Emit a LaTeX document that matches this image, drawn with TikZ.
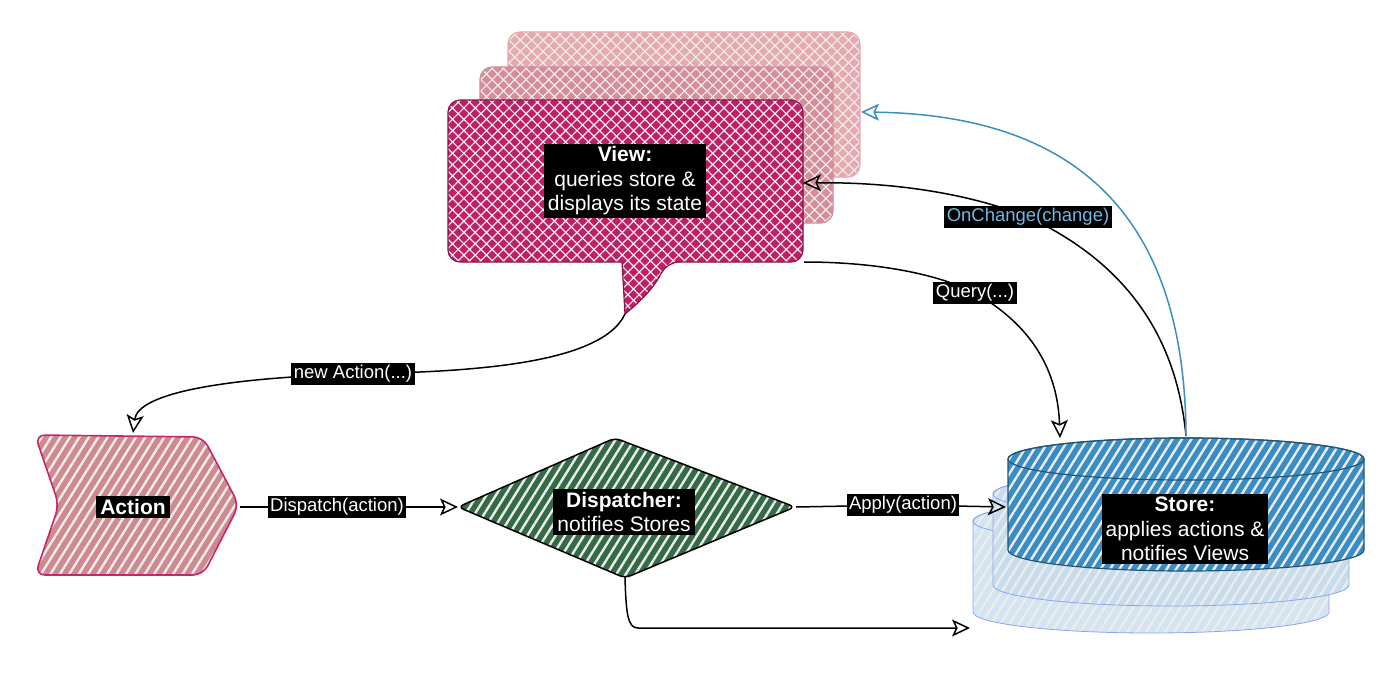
\documentclass[tikz,border=0pt]{standalone}
\usepackage{fontspec}
\setmainfont{Liberation Sans}
\usetikzlibrary{arrows.meta,patterns.meta}
\definecolor{viewfront}{HTML}{C01F66}
\definecolor{viewmid}{HTML}{D58D99}
\definecolor{viewback}{HTML}{E5AAB0}
\definecolor{actionfill}{HTML}{CE8A8F}
\definecolor{actionborder}{HTML}{C8266B}
\definecolor{dispfill}{HTML}{356A47}
\definecolor{storefill}{HTML}{3A8DC4}
\definecolor{storeghost}{HTML}{AFCFE6}
\definecolor{blueline}{HTML}{3A8FC0}
\definecolor{bluetext}{HTML}{72B8E2}
\newcommand\edgefont{\fontsize{18.5}{22}\selectfont}
\newcommand\nodefont{\fontsize{21}{24.5}\selectfont}
\tikzset{
  lbl/.style={fill=black, text=white, inner sep=2.5pt, font=\edgefont},
  nlbl/.style={fill=black, text=white, inner xsep=4pt, inner ysep=3pt, align=center, font=\nodefont},
  conn/.style={draw=black, line width=1.5pt, -{Stealth[open,length=18pt,width=17pt,inset=4pt,line width=1.5pt]}},
  blueconn/.style={conn, draw=blueline},
  crossfill/.style={pattern={Hatch[angle=45,distance=8pt,line width=1.2pt]}, pattern color=white!85!gray},
  stripefill/.style={pattern={Lines[angle=58,distance=8pt,line width=2.4pt]}, pattern color=white!85!gray},
}
\begin{document}
\begin{tikzpicture}[x=1pt,y=1pt]
\useasboundingbox (0,0) rectangle (1400,-685);

% ---------- View (stack of callouts) ----------
\draw[draw=viewback, line width=1.2pt, rounded corners=12pt, preaction={fill=viewback}, crossfill]
  (508,-32) rectangle (860,-177);
\draw[draw=viewmid, line width=1.2pt, rounded corners=12pt, preaction={fill=viewmid}, crossfill]
  (480,-67) rectangle (833,-223);
\draw[draw=viewfront!70!black, line width=1.2pt, preaction={fill=viewfront}, crossfill]
  [rounded corners=12pt] (622,-262) -- (448,-262) -- (448,-100) -- (803,-100) -- (803,-262) -- (667,-262)
  [sharp corners] to[bend left=12] (625,-314) -- cycle;

% ---------- Action ----------
\draw[draw=actionborder, line width=1.6pt, rounded corners=10pt, preaction={fill=actionfill}, stripefill]
  (35,-435) -- (203,-437) -- (239,-505) -- (203,-575) -- (35,-575) -- (59,-505) -- cycle;

% ---------- Dispatcher ----------
\draw[draw=black, line width=1.5pt, rounded corners=6pt, preaction={fill=dispfill}, stripefill]
  (458,-507) -- (615,-438) -- (795,-507) -- (625,-578) -- cycle;

% ---------- Store (stack of cylinders) ----------
\draw[draw=storeghost!80!blue, line width=0.8pt, preaction={fill=storeghost!55!white}, stripefill]
  (973,-521) -- (973,-612) arc[start angle=180,end angle=360,x radius=178,y radius=21]
  -- (1329,-521) arc[start angle=0,end angle=180,x radius=178,y radius=21] -- cycle;
\draw[draw=storeghost!80!blue, line width=0.8pt] (1151,-521) ellipse[x radius=178,y radius=21];
\draw[draw=storeghost!80!blue, line width=0.8pt, preaction={fill=storeghost!70!white}, stripefill]
  (993,-494) -- (993,-585) arc[start angle=180,end angle=360,x radius=178,y radius=21]
  -- (1349,-494) arc[start angle=0,end angle=180,x radius=178,y radius=21] -- cycle;
\draw[draw=storeghost!80!blue, line width=0.8pt] (1171,-494) ellipse[x radius=178,y radius=21];
\draw[draw=storefill!60!black, line width=1.2pt, preaction={fill=storefill}, stripefill]
  (1008,-459) -- (1008,-550) arc[start angle=180,end angle=360,x radius=178,y radius=21]
  -- (1364,-459) arc[start angle=0,end angle=180,x radius=178,y radius=21] -- cycle;
\draw[draw=storefill!60!black, line width=1.2pt] (1186,-459) ellipse[x radius=178,y radius=21];

% ---------- anchor coordinates ----------
\coordinate (viewtip) at (625,-314);
\coordinate (viewright) at (803,-183);
\coordinate (viewbackright) at (861,-112);
\coordinate (viewcorner) at (804,-262);
\coordinate (actiontop) at (133,-433);
\coordinate (actionright) at (240,-507);
\coordinate (displeft) at (458,-507);
\coordinate (dispright) at (796,-507);
\coordinate (dispbottom) at (625,-577);
\coordinate (storeleft) at (1006,-507);
\coordinate (storetop) at (1186,-436);
\coordinate (storetopleft) at (1060,-438);
\coordinate (ghostleft) at (970,-628);
\coordinate (bend) at (638,-628);

% ---------- label positions ----------
\coordinate (lnew) at (353,-374);
\coordinate (ldisp) at (337,-507);
\coordinate (lapply) at (903,-505);
\coordinate (lquery) at (975,-293);
\coordinate (lchange) at (1028,-217);

% ---------- connectors ----------
\draw[conn] (viewtip) .. controls (600,-368) and (450,-372) .. (lnew)
  .. controls (230,-378) and (138,-392) .. (actiontop);
\draw[conn] (actionright) -- (ldisp) -- (displeft);
\draw[conn] (dispright) -- (lapply) -- (storeleft);
\draw[conn] (dispbottom) .. controls (626,-615) and (628,-628) .. (bend) -- (ghostleft);
\draw[conn] (viewcorner) .. controls (880,-262) and (940,-275) .. (lquery)
  .. controls (1040,-330) and (1058,-380) .. (storetopleft);
\draw[conn] (storetop) .. controls (1176,-330) and (1120,-260) .. (lchange)
  .. controls (960,-190) and (880,-182) .. (viewright);
\draw[blueconn] (storetop) .. controls (1185,-230) and (1090,-115) .. (viewbackright);

% ---------- labels ----------
\node[lbl] (newaction) at (lnew) {new Action(...)};
\node[lbl] (dispatch) at (ldisp) {Dispatch(action)};
\node[lbl] (apply) at (lapply) {Apply(action)};
\node[lbl] (query) at (lquery) {Query(...)};
\node[lbl, text=bluetext] (onchange) at (lchange) {OnChange(change)};

\node[nlbl] (view) at (625,-181) {\textbf{View:}\\queries store \&\\displays its state};
\node[nlbl] (action) at (133,-507) {\textbf{Action}};
\node[nlbl] (dispatcher) at (624,-512) {\textbf{Dispatcher:}\\notifies Stores};
\node[nlbl] (store) at (1185,-529) {\textbf{Store:}\\applies actions \&\\notifies Views};
\end{tikzpicture}
\end{document}
